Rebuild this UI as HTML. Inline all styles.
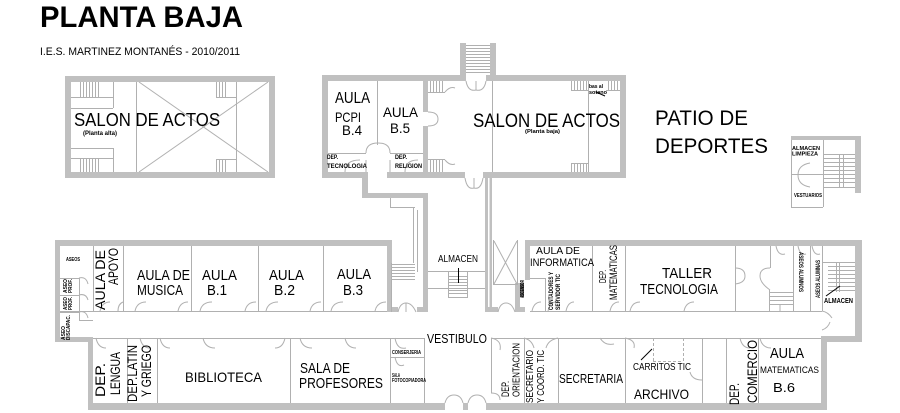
<!DOCTYPE html>
<html>
<head>
<meta charset="utf-8">
<style>
html,body{margin:0;padding:0;background:#fff;}
svg{display:block;}
text{font-family:"Liberation Sans",sans-serif;fill:#000;}
.b{font-weight:bold;}
</style>
</head>
<body>
<svg width="900" height="413" viewBox="0 0 900 413" xmlns="http://www.w3.org/2000/svg">
<rect width="900" height="413" fill="#fff"/>

<!-- TITLE -->
<text x="40" y="27" class="b" font-size="30" textLength="203" lengthAdjust="spacingAndGlyphs">PLANTA BAJA</text>
<text x="40" y="55" font-size="11" textLength="200" lengthAdjust="spacingAndGlyphs">I.E.S. MARTINEZ MONTANÉS - 2010/2011</text>

<!-- ============ WALLS ============ -->
<g fill="#c0c0c0">
  <rect x="65" y="76" width="210" height="6"/>
  <rect x="65" y="172" width="210" height="6"/>
  <rect x="65" y="76" width="6" height="102"/>
  <rect x="269" y="76" width="6" height="102"/>
  <rect x="460" y="43" width="6" height="38"/>
  <rect x="490" y="43" width="6" height="38"/>
  <rect x="322" y="75" width="144" height="6"/>
  <rect x="486" y="75" width="140" height="6"/>
  <rect x="322" y="75" width="6" height="103"/>
  <rect x="620" y="75" width="6" height="103"/>
  <rect x="322" y="172" width="46" height="6"/>
  <rect x="387" y="172" width="78" height="6"/>
  <rect x="483" y="172" width="143" height="6"/>
  <rect x="423" y="81" width="5" height="31"/>
  <rect x="423" y="126" width="5" height="46"/>
  <rect x="362" y="172" width="6" height="26"/>
  <rect x="362" y="193" width="66" height="5"/>
  <rect x="423" y="193" width="5" height="119"/>
  <rect x="417" y="307" width="11" height="5"/>
  <rect x="485" y="178" width="7" height="134"/>
  <rect x="485" y="307" width="13" height="5"/>
  <rect x="55" y="240" width="337" height="6"/>
  <rect x="55" y="240" width="5" height="102"/>
  <rect x="55" y="337" width="38" height="5"/>
  <rect x="88" y="337" width="5" height="73"/>
  <rect x="88" y="403" width="357" height="7"/>
  <rect x="463" y="403" width="5" height="7"/>
  <rect x="486" y="403" width="341" height="7"/>
  <rect x="387" y="240" width="5" height="72"/>
  <rect x="387" y="307" width="11" height="5"/>
  <rect x="525" y="240" width="337" height="6"/>
  <rect x="525" y="240" width="5" height="40"/>
  <rect x="515" y="283" width="5" height="29"/>
  <rect x="515" y="307" width="10" height="5"/>
  <rect x="855" y="240" width="7" height="102"/>
  <rect x="821" y="336" width="41" height="6"/>
  <rect x="821" y="336" width="6" height="74"/>
  <rect x="791" y="136" width="70" height="4"/>
  <rect x="855" y="136" width="6" height="57"/>
</g>
<rect x="488" y="178" width="1.5" height="129" fill="#fff"/>

<!-- ============ THIN LINES ============ -->
<g stroke="#b0b0b0" stroke-width="1" fill="none">
  <path d="M136.5 82V172 M236.5 82V172 M139 82L268 172 M139 172L268 82"/>
  <path d="M71 97.5H113 M71 108.5H113 M113.5 82V108 M71 148.5H113 M71 158.5H113 M113.5 148V172"/>
  <path d="M80.5 82V97 M83.5 82V97 M86.5 82V97 M89.5 82V97 M92.5 82V97 M95.5 82V97 M98.5 82V97"/>
  <path d="M80.5 158V172 M83.5 158V172 M86.5 158V172 M89.5 158V172 M92.5 158V172 M95.5 158V172 M98.5 158V172"/>
  <path d="M216.5 82V97 M219.5 82V97 M222.5 82V97 M225.5 82V97 M216 97.5H236"/>
  <path d="M216.5 159V172 M219.5 159V172 M222.5 159V172 M225.5 159V172 M216 159.5H236"/>

  <path d="M466 45.5H490 M466 48.5H490 M466 51.5H490 M466 54.5H490 M466 57.5H490 M466 60.5H490 M466 63.5H490 M466 66.5H490 M466 69.5H490 M466 72.5H490"/>
  <path d="M466 81 Q468 92 476 90 Q484 92 486 81 M476 81V90"/>
  <path d="M465 178 Q467 190 474 188 Q481 190 483 178 M474 178V188"/>

  <path d="M377.5 81V145 M328 153.5H366 M390 153.5H423"/>
  <path d="M366 153 Q366 143 378 143 Q390 143 390 153 M366 172V160 M390 172V160"/>
  <path d="M345 172 Q345 160 360 160 M405 172 Q405 160 418 160"/>
  <path d="M428 112 Q438 112 438 119 Q438 126 428 126"/>
  <path d="M492.5 81V172 M588.5 81V172"/>
  <path d="M430.5 81V92 M433.5 81V92 M436.5 81V92 M439.5 81V92 M442.5 81V92 M428 92.5H445 M445 92 Q450 86 455 88"/>
  <path d="M430.5 160V172 M433.5 160V172 M436.5 160V172 M439.5 160V172 M442.5 160V172 M428 159.5H445 M445 160 Q450 166 455 164"/>
  <path d="M571.5 81V90 M574.5 81V90 M577.5 81V90 M580.5 81V90 M583.5 81V90 M586.5 81V90 M571 90.5H588"/>
  <path d="M608.5 81V90 M611.5 81V90 M614.5 81V90 M617.5 81V90 M606 90.5H620"/>
  <path d="M571.5 163V172 M574.5 163V172 M577.5 163V172 M580.5 163V172 M583.5 163V172 M586.5 163V172 M571 163.5H588"/>
  <path d="M596 92 L605 96" stroke="#000"/>

  <path d="M390.5 198V207 M390 207.5H415 M413.5 207V263 M417.5 210V272 M391.5 263V312"/>
  <path d="M391 264.5H415 M391 267.5H415 M391 270.5H415 M391 273.5H415 M391 276.5H415 M391 279.5H415"/>
  <path d="M428 271.5H485 M428 288.5H485"/>
  <path d="M448.5 272V298 M467.5 272V298 M448 297.5H468 M448 276.5H468 M448 279.5H468 M448 282.5H468 M448 285.5H468 M448 290.5H468 M448 293.5H468"/>
  <path d="M458.5 268V283" stroke="#000"/>
  <path d="M493.5 240V285 M517.5 240V285 M493 284.5H518 M494 241L517 284 M517 241L494 284"/>
  <path d="M398 312 Q400 303 406 303 Q412 303 416 312 M406 303V312"/>
  <path d="M498 312 Q500 303 506 303 Q512 303 515 312"/>

  <path d="M60 311.5H387"/>
  <path d="M93.5 246V311 M123.5 246V311 M191.5 246V311 M258.5 246V311 M323.5 246V311"/>
  <path d="M60 278.5H79 M60 295.5H79 M60 312.5H79 M79.5 278V320 M79 320.5H93"/>
  <path d="M79 278 Q86 276 88 284 M79 295 Q86 293 88 300 M79 312 Q86 310 88 318"/>
  <path d="M100 311 Q102 302 110 302 M118 311 Q118 304 123 302"/>
  <path d="M135 311 Q137 302 146 302 M178 311 Q180 302 188 302"/>
  <path d="M200 311 Q202 302 212 302 M245 311 Q247 302 256 302"/>
  <path d="M266 311 Q268 302 278 302 M310 311 Q312 302 321 302"/>
  <path d="M331 311 Q333 302 343 302 M375 311 Q377 302 386 302"/>
  <path d="M93 338.5H424"/>
  <path d="M127.5 338V403 M157.5 338V403 M290.5 338V403 M390.5 338V403 M424.5 338V403 M390 357.5H424"/>
  <path d="M96 338 Q98 348 106 348 M140 338 Q142 348 150 348 M160 338 Q162 348 170 348"/>
  <path d="M203 338 Q205 348 215 348 M285 338 Q283 348 275 348 M300 338 Q302 348 312 348 M345 338 Q347 348 356 348"/>
  <path d="M395 338 Q397 350 406 348 M395 357 Q397 368 404 365"/>
  <path d="M445 403 Q447 395 454 395 Q461 395 463 403 M468 403 Q470 395 477 395 Q484 395 486 403"/>

  <path d="M530 311.5H822"/>
  <path d="M530 278.5H545 M545.5 278V311"/>
  <path d="M592.5 246V311 M625.5 246V311 M735.5 246V311 M770.5 246V268 M769.5 290V311 M793.5 246V311 M810.5 246V311 M822.5 246V311"/>
  <path d="M532 311 Q534 302 541 302 M548 311 Q550 302 556 302 M566 311 Q568 302 574 302"/>
  <path d="M610 311 Q612 302 619 302 M630 311 Q632 302 640 302 M684 311 Q686 302 694 302"/>
  <path d="M735 268 Q745 268 745 276 Q745 283 735 284 M770 268 Q760 268 760 276 Q760 283 770 290"/>
  <path d="M770 292.5H793 M770 296.5H793 M770 300.5H793 M770 304.5H793 M780 304V311"/>
  <path d="M776 246 Q778 256 785 254 M798 246 Q800 256 806 254 M812 246 Q814 256 820 254"/>
  <path d="M822 262.5H855 M828 266.5H855 M828 270.5H855 M828 274.5H855 M828 278.5H855 M828 282.5H855 M828 286.5H855 M828 290.5H855 M836.5 262V292 M839.5 262V292"/>
  <path d="M826 296 L840 286" stroke="#000"/>
  <path d="M822 311 Q828 312 832 318 M822 330 Q828 328 830 322"/>
  <path d="M491 338.5H821"/>
  <path d="M491.5 338V393 M524.5 338V403 M558.5 338V403 M625.5 338V403 M702.5 338V403 M726.5 338V403 M758.5 338V403"/>
  <path d="M491 338 Q502 340 500 350 M491 393 Q500 393 500 400"/>
  <path d="M524 338 Q532 340 534 348 M558 338 Q548 340 546 348"/>
  <path d="M600 338 Q605 346 614 344 M625 338 Q636 340 634 348"/>
  <path d="M702 380 Q692 380 690 372 M740 338 Q742 348 750 348 M760 338 Q762 348 771 348"/>
  <path d="M653.5 338V361 M683.5 338V361 M653 361.5H683" stroke-dasharray="3,2"/>
  <path d="M641 360 L652 349" stroke="#000"/>

  <path d="M791.5 140V207 M791 207.5H823 M823.5 140V207 M791 174.5H823"/>
  <path d="M823 154.5H855 M823 158.5H855 M823 162.5H855 M823 166.5H855 M823 170.5H855 M823 174.5H855 M823 178.5H855 M823 182.5H855 M823 187.5H855 M839.5 154V188 M843.5 154V188"/>
  <path d="M810 163 Q798 165 798 175 Q798 185 810 187"/>
</g>

<!-- ============ TEXT ============ -->
<text x="74" y="126" font-size="18" textLength="146" lengthAdjust="spacingAndGlyphs">SALON DE ACTOS</text>
<text x="83" y="135" class="b" font-size="6" textLength="34" lengthAdjust="spacingAndGlyphs">(Planta alta)</text>

<text x="335" y="103" font-size="16" textLength="35" lengthAdjust="spacingAndGlyphs">AULA</text>
<text x="335" y="122" font-size="14" textLength="26" lengthAdjust="spacingAndGlyphs">PCPI</text>
<text x="342" y="135" font-size="14" textLength="20" lengthAdjust="spacingAndGlyphs">B.4</text>
<text x="383" y="117" font-size="14" textLength="35" lengthAdjust="spacingAndGlyphs">AULA</text>
<text x="390" y="133" font-size="14" textLength="20" lengthAdjust="spacingAndGlyphs">B.5</text>
<text x="327" y="159" class="b" font-size="6" textLength="11" lengthAdjust="spacingAndGlyphs">DEP.</text>
<text x="327" y="168" class="b" font-size="6" textLength="40" lengthAdjust="spacingAndGlyphs">TECNOLOGIA</text>
<text x="395" y="159" class="b" font-size="6" textLength="12" lengthAdjust="spacingAndGlyphs">DEP.</text>
<text x="395" y="168" class="b" font-size="6" textLength="27" lengthAdjust="spacingAndGlyphs">RELIGION</text>
<text x="473" y="127" font-size="19" textLength="147" lengthAdjust="spacingAndGlyphs">SALON DE ACTOS</text>
<text x="525" y="133" class="b" font-size="5.5" textLength="35" lengthAdjust="spacingAndGlyphs">(Planta baja)</text>
<text x="589" y="88" class="b" font-size="5" textLength="14" lengthAdjust="spacingAndGlyphs">bas al</text>
<text x="589" y="94" class="b" font-size="5" textLength="18" lengthAdjust="spacingAndGlyphs">sotano</text>

<text x="655" y="125" font-size="21" textLength="93" lengthAdjust="spacingAndGlyphs">PATIO DE</text>
<text x="655" y="153" font-size="21" textLength="113" lengthAdjust="spacingAndGlyphs">DEPORTES</text>
<text x="792" y="150" class="b" font-size="5.5" textLength="28" lengthAdjust="spacingAndGlyphs">ALMACEN</text>
<text x="792" y="155.5" class="b" font-size="5.5" textLength="26" lengthAdjust="spacingAndGlyphs">LIMPIEZA</text>
<text x="794" y="197" class="b" font-size="5.5" textLength="28" lengthAdjust="spacingAndGlyphs">VESTUARIOS</text>

<text x="66" y="261" class="b" font-size="5.5" textLength="14" lengthAdjust="spacingAndGlyphs">ASEOS</text>
<text transform="translate(67,293) rotate(-90)" class="b" font-size="5.5" textLength="14" lengthAdjust="spacingAndGlyphs">ASEO</text>
<text transform="translate(72,293) rotate(-90)" class="b" font-size="5.5" textLength="14" lengthAdjust="spacingAndGlyphs">PROF.</text>
<text transform="translate(67,310) rotate(-90)" class="b" font-size="5.5" textLength="13" lengthAdjust="spacingAndGlyphs">ASEO</text>
<text transform="translate(72,310) rotate(-90)" class="b" font-size="5.5" textLength="13" lengthAdjust="spacingAndGlyphs">PROF.</text>
<text transform="translate(65,340) rotate(-90)" class="b" font-size="5.5" textLength="14" lengthAdjust="spacingAndGlyphs">ASEO</text>
<text transform="translate(70,340) rotate(-90)" class="b" font-size="5.5" textLength="25" lengthAdjust="spacingAndGlyphs">DISCAPAC.</text>
<text transform="translate(105,310) rotate(-90)" font-size="13.5" textLength="60" lengthAdjust="spacingAndGlyphs">AULA DE</text>
<text transform="translate(118,285) rotate(-90)" font-size="13.5" textLength="37" lengthAdjust="spacingAndGlyphs">APOYO</text>
<text x="137" y="280" font-size="15" textLength="53" lengthAdjust="spacingAndGlyphs">AULA DE</text>
<text x="137" y="295" font-size="15" textLength="46" lengthAdjust="spacingAndGlyphs">MUSICA</text>
<text x="202" y="280" font-size="15" textLength="35" lengthAdjust="spacingAndGlyphs">AULA</text>
<text x="207" y="295" font-size="15" textLength="20" lengthAdjust="spacingAndGlyphs">B.1</text>
<text x="269" y="280" font-size="15" textLength="35" lengthAdjust="spacingAndGlyphs">AULA</text>
<text x="274" y="295" font-size="15" textLength="21" lengthAdjust="spacingAndGlyphs">B.2</text>
<text x="337" y="279" font-size="15" textLength="34" lengthAdjust="spacingAndGlyphs">AULA</text>
<text x="343" y="295" font-size="15" textLength="20" lengthAdjust="spacingAndGlyphs">B.3</text>

<text x="438" y="262" font-size="10" textLength="40" lengthAdjust="spacingAndGlyphs">ALMACEN</text>
<text x="427" y="343" font-size="13" textLength="60" lengthAdjust="spacingAndGlyphs">VESTIBULO</text>
<text transform="translate(524,298) rotate(-90)" class="b" font-size="5" textLength="18" lengthAdjust="spacingAndGlyphs">ASCENSOR</text>
<rect x="520" y="283" width="4" height="14" fill="#000" opacity="0.6"/>

<text transform="translate(105,397) rotate(-90)" font-size="13.5" textLength="34" lengthAdjust="spacingAndGlyphs">DEP.</text>
<text transform="translate(120,395) rotate(-90)" font-size="13.5" textLength="43" lengthAdjust="spacingAndGlyphs">LENGUA</text>
<text transform="translate(137,402) rotate(-90)" font-size="13.5" textLength="57" lengthAdjust="spacingAndGlyphs">DEP.LATIN</text>
<text transform="translate(151,397) rotate(-90)" font-size="13.5" textLength="52" lengthAdjust="spacingAndGlyphs">Y GRIEGO</text>
<text x="185" y="382" font-size="14" textLength="77" lengthAdjust="spacingAndGlyphs">BIBLIOTECA</text>
<text x="300" y="373" font-size="15" textLength="50" lengthAdjust="spacingAndGlyphs">SALA DE</text>
<text x="299" y="388" font-size="15" textLength="84" lengthAdjust="spacingAndGlyphs">PROFESORES</text>
<text x="392" y="354" class="b" font-size="5" textLength="29" lengthAdjust="spacingAndGlyphs">CONSERJERIA</text>
<text x="392" y="377" class="b" font-size="5" textLength="8" lengthAdjust="spacingAndGlyphs">SALA</text>
<text x="392" y="382" class="b" font-size="5" textLength="34" lengthAdjust="spacingAndGlyphs">FOTOCOPIADORA</text>

<text transform="translate(509,397) rotate(-90)" font-size="11" textLength="16" lengthAdjust="spacingAndGlyphs">DEP.</text>
<text transform="translate(519.5,397) rotate(-90)" font-size="10.5" textLength="54" lengthAdjust="spacingAndGlyphs">ORIENTACION</text>
<text transform="translate(533,403) rotate(-90)" font-size="10" textLength="53" lengthAdjust="spacingAndGlyphs">SECRETARIO</text>
<text transform="translate(544,403) rotate(-90)" font-size="10" textLength="53" lengthAdjust="spacingAndGlyphs">Y COORD. TIC</text>
<text x="559" y="383" font-size="13" textLength="64" lengthAdjust="spacingAndGlyphs">SECRETARIA</text>
<text x="633" y="370" font-size="10" textLength="58" lengthAdjust="spacingAndGlyphs">CARRITOS TIC</text>
<text x="634" y="399" font-size="14" textLength="55" lengthAdjust="spacingAndGlyphs">ARCHIVO</text>
<text transform="translate(739,405) rotate(-90)" font-size="14" textLength="22" lengthAdjust="spacingAndGlyphs">DEP.</text>
<text transform="translate(757,403) rotate(-90)" font-size="14" textLength="63" lengthAdjust="spacingAndGlyphs">COMERCIO</text>
<text x="770" y="358" font-size="15" textLength="34" lengthAdjust="spacingAndGlyphs">AULA</text>
<text x="760" y="373" font-size="9" textLength="59" lengthAdjust="spacingAndGlyphs">MATEMATICAS</text>
<text x="773" y="392" font-size="13" textLength="22" lengthAdjust="spacingAndGlyphs">B.6</text>

<text x="536" y="254" font-size="10" textLength="44" lengthAdjust="spacingAndGlyphs">AULA DE</text>
<text x="530" y="266" font-size="11" textLength="64" lengthAdjust="spacingAndGlyphs">INFORMATICA</text>
<text transform="translate(553,310) rotate(-90)" class="b" font-size="6.5" textLength="38" lengthAdjust="spacingAndGlyphs">CONTADORES Y</text>
<text transform="translate(560,310) rotate(-90)" class="b" font-size="6.5" textLength="36" lengthAdjust="spacingAndGlyphs">SERVIDOR TIC</text>
<text transform="translate(606,283) rotate(-90)" font-size="10" textLength="13" lengthAdjust="spacingAndGlyphs">DEP.</text>
<text transform="translate(617,300) rotate(-90)" font-size="11" textLength="55" lengthAdjust="spacingAndGlyphs">MATEMATICAS</text>
<text x="662" y="278" font-size="15" textLength="50" lengthAdjust="spacingAndGlyphs">TALLER</text>
<text x="640" y="294" font-size="15" textLength="78" lengthAdjust="spacingAndGlyphs">TECNOLOGIA</text>
<text transform="translate(799,252) rotate(90)" class="b" font-size="6" textLength="40" lengthAdjust="spacingAndGlyphs">ASEOS ALUMNOS</text>
<text transform="translate(820,298) rotate(-90)" class="b" font-size="6" textLength="38" lengthAdjust="spacingAndGlyphs">ASEOS ALUMNAS</text>
<text x="824" y="303" class="b" font-size="7" textLength="29" lengthAdjust="spacingAndGlyphs">ALMACEN</text>
</svg>
</body>
</html>
